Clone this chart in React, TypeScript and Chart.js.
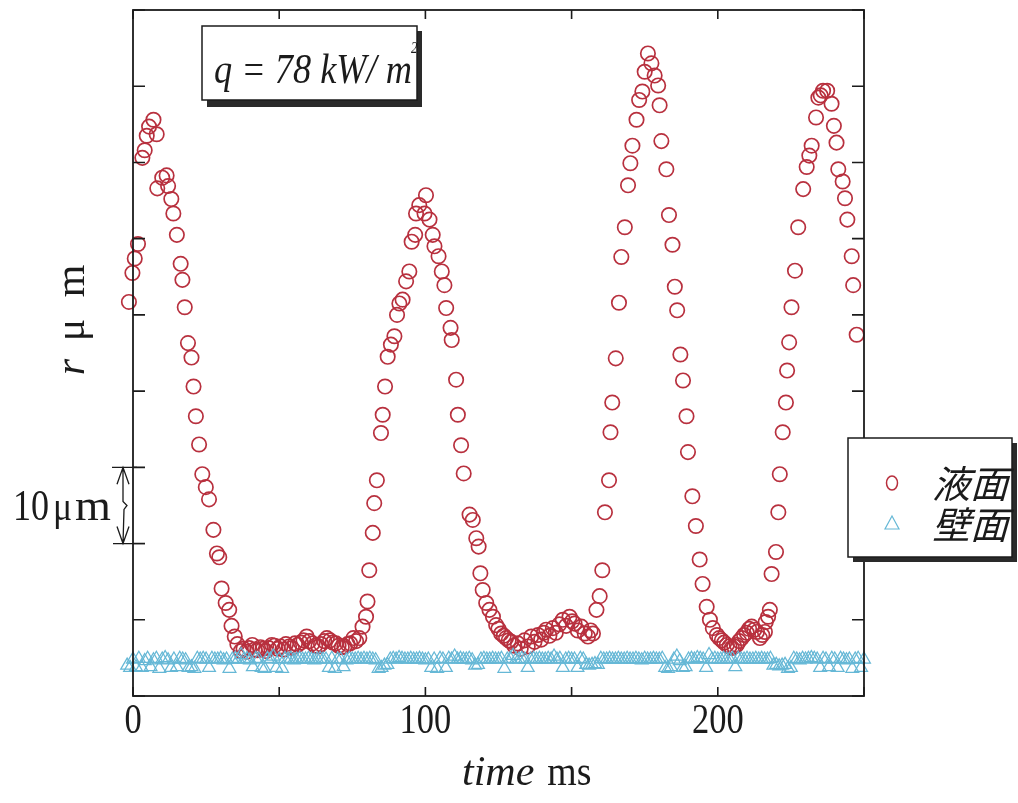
import React, { useEffect, useRef } from 'react';
import { Chart, registerables } from 'chart.js';

Chart.register(...registerables);

// ---- axis ranges / ticks ----
const X_MIN = 0;
const X_MAX = 250;
const Y_MIN = 0;
const Y_MAX = 90;
const xTickValues = [0, 50, 100, 150, 200, 250];
const xTickLabels = ['0', '', '100', '', '200', ''];
const yTickValues = [0, 10, 20, 30, 40, 50, 60, 70, 80, 90];

// ---- 液面 (liquid surface) : time ms / r μm ----
const liquidTimes = [
  -0.2, 0.6, 1.7, 3.2, 4.0, 4.7, 5.5, 7.0, 8.1, 8.3, 10.0, 11.5, 12.0, 13.1, 13.8, 15.0, 16.3, 16.9, 17.7,
  18.8, 20.0, 20.7, 21.5, 22.6, 23.7, 24.9, 26.0, 27.5, 28.7, 29.5, 30.3, 31.7, 32.9, 33.7, 34.8, 35.7, 36.9,
  37.8, 38.8, 39.7, 40.8, 41.6, 42.5, 43.6, 44.4, 45.5, 46.4, 47.5, 48.4, 49.5, 50.4, 51.5, 52.3, 53.4, 54.3,
  55.4, 56.3, 57.4, 58.3, 59.4, 60.3, 61.4, 62.3, 63.4, 64.3, 65.4, 66.3, 67.4, 68.3, 69.4, 70.3, 71.4, 72.3,
  73.4, 74.3, 75.4, 76.3,
  77.4, 78.5, 79.7, 80.2, 80.8, 82.0, 82.5, 83.4, 84.8, 85.4, 86.2, 87.1, 88.2, 89.4, 90.3, 91.1, 92.2, 93.4,
  94.5, 95.3, 96.5, 96.8, 97.9, 99.7, 100.2, 101.4, 102.5, 103.1, 104.5, 105.6, 106.5, 107.1, 108.6, 109.0,
  110.5, 111.1, 112.2, 113.1, 115.1, 116.2, 117.4, 118.2, 118.8, 119.6, 120.8, 121.9, 123.1, 124.2, 125.0,
  125.9, 126.8, 127.6, 128.5, 129.3, 130.4, 131.6, 132.6, 133.9, 135.0, 136.2, 137.3, 138.5, 139.6, 140.5,
  141.3, 142.4, 143.6, 144.6, 145.8, 147.0, 148.1, 149.3, 150.2, 151.0, 152.1, 153.3, 154.5, 155.6, 156.5,
  157.3, 158.5, 159.6, 160.5, 161.4, 162.8, 163.3, 163.9, 165.1, 166.2, 167.0, 168.2, 169.3, 170.1, 170.8,
  172.2, 173.1, 174.2, 175.0, 176.1, 177.3, 178.4, 179.6, 180.1, 180.7, 182.4, 183.3, 184.5, 185.3, 186.1,
  187.2, 188.1, 189.3, 189.8, 191.3, 192.5, 193.8, 194.8,
  196.2, 197.3, 198.3, 199.7, 200.5, 201.4, 202.2, 203.1, 204.0, 204.8, 205.6, 206.5, 207.3, 208.2, 209.0,
  209.9, 210.7, 211.6, 212.5, 213.4, 214.4, 215.2, 216.1, 216.4, 217.2, 217.8,
  218.4, 219.9, 220.7, 221.2, 222.2, 223.3, 223.7, 224.4, 225.2, 226.4, 227.5, 229.2, 230.4, 231.3, 232.1,
  233.6, 234.4, 235.2, 236.0, 237.4, 238.9, 239.7, 240.6, 241.2, 242.7, 243.5, 244.3, 245.8, 246.3, 247.5,
];
const liquidRadius = [
  55.5, 57.4, 59.3, 70.6, 71.6, 73.5, 74.7, 75.6, 73.7, 66.6, 68.0, 68.3, 66.9, 65.2, 63.3, 60.5, 56.7, 54.6, 51.0,
  46.3, 44.4, 40.6, 36.7, 33.0, 29.1, 27.4, 25.8, 21.8, 18.7, 18.2, 14.1, 12.2, 11.3, 9.2, 7.8, 6.8, 5.9,
  6.2, 5.8, 6.3, 6.7, 6.1, 6.0, 6.4, 6.2, 5.9, 6.3, 6.7, 6.6, 6.2, 6.5, 6.1, 6.8, 6.5, 6.3,
  6.9, 6.7, 7.0, 7.3, 7.8, 7.2, 6.9, 6.6, 6.5, 6.8, 7.2, 7.6, 7.3, 7.0, 6.9, 6.6, 6.4, 6.5,
  6.8, 6.9, 7.6, 7.2,
  7.6, 9.1, 10.4, 12.4, 16.5, 21.4, 25.3, 28.3, 34.5, 36.9, 40.6, 44.5, 46.1, 47.2, 50.0, 51.5, 52.0, 54.4,
  55.7, 59.6, 60.5, 63.3, 64.4, 63.3, 65.7, 62.5, 60.5, 59.0, 57.7, 55.7, 53.9, 50.9, 48.3, 46.7,
  41.5, 36.9, 32.9, 29.2, 23.8, 23.1, 20.7, 19.6, 16.1, 13.9, 12.2, 11.3, 10.4, 9.3, 8.8,
  8.2, 7.9, 7.6, 7.3, 7.1, 6.6, 6.9, 6.2, 7.3, 6.5, 7.8, 7.1, 8.0, 7.4, 8.3,
  8.7, 7.9, 8.9, 8.3, 9.4, 10.0, 9.2, 10.4, 9.8, 9.5, 8.6, 9.1, 8.2, 7.8, 8.6,
  8.2, 11.3, 13.1, 16.5, 24.1, 28.3, 34.6, 38.5, 44.3, 51.6, 57.6, 61.5, 67.0, 69.9, 72.2,
  75.6, 78.2, 79.3, 81.9, 84.3, 83.0, 81.4, 80.1, 77.5, 72.8, 69.1, 63.1, 59.2, 53.7, 50.6,
  44.8, 41.4, 36.7, 32.0, 26.2, 22.3, 17.9, 14.7,
  11.7, 10.0, 8.9, 8.0, 7.6, 7.3, 7.0, 6.7, 6.5, 6.3, 6.5, 6.7, 7.2, 7.6, 8.0,
  8.3, 8.8, 9.1, 8.7, 8.4, 7.6, 8.0, 8.4, 9.7, 10.4, 11.3,
  16.0, 18.9, 24.1, 29.1, 34.6, 38.5, 42.7, 46.4, 51.0, 55.8, 61.5, 66.5, 69.4, 70.9, 72.2,
  75.9, 78.5, 78.8, 79.4, 79.4, 77.7, 74.8, 72.6, 69.1, 67.5, 65.3, 62.5, 57.7, 53.9, 47.4,
];
// readings taken just before t = 0 (left of the axis origin)
const liquidEarlyTimes = [-1.4];
const liquidEarlyRadius = [51.7];

// ---- 壁面 (wall) : one reading per ms, starting at wallStartMs ----
const wallStartMs = -2;
const wallRadius = [
  4.0, 3.7, 4.8, 3.8, 4.9, 3.7, 4.6, 4.9, 3.8, 4.7,
  4.9, 3.6, 4.8, 5.0, 4.7, 3.7, 4.8, 3.8, 4.9, 4.8,
  4.7, 3.7, 3.8, 3.6, 4.9, 4.8, 4.9, 4.8, 3.7, 4.9,
  4.8, 4.8, 4.9, 4.7, 4.8, 3.6, 4.8, 4.9, 4.8, 5.4,
  4.8, 4.9, 4.7, 3.8, 4.9, 4.8, 3.7, 3.6, 4.9, 4.8,
  5.2, 3.7, 4.8, 3.6, 4.9, 4.8, 4.9, 4.7, 4.8, 4.9,
  4.8, 4.8, 4.9, 4.8, 4.7, 4.8, 4.9, 4.8, 4.8, 3.7,
  4.9, 3.6, 4.8, 4.8, 3.8, 4.7, 4.9, 4.8, 4.8, 4.9,
  4.8, 4.9, 4.8, 4.9, 4.8, 4.7, 3.6, 3.7, 4.0, 4.1,
  4.8, 4.9, 4.8, 5.0, 4.9, 4.8, 4.8, 4.9, 4.8, 4.8,
  4.9, 4.8, 4.7, 4.8, 3.7, 4.8, 3.6, 4.9, 4.8, 3.7,
  4.9, 4.8, 5.2, 4.8, 4.9, 4.8, 4.8, 4.9, 4.7, 4.0,
  4.1, 4.8, 4.9, 4.8, 4.8, 4.9, 4.8, 4.8, 4.9, 3.6,
  4.8, 4.9, 5.3, 4.8, 4.8, 4.9, 4.8, 3.7, 4.8, 4.9,
  4.8, 4.9, 4.8, 4.8, 4.9, 4.8, 5.2, 4.8, 4.9, 3.7,
  4.8, 4.9, 4.8, 4.8, 3.7, 4.9, 4.8, 4.1, 4.0, 4.1,
  4.2, 4.1, 4.9, 4.8, 4.8, 4.9, 4.8, 4.8, 4.9, 4.8,
  4.8, 4.9, 4.8, 4.8, 4.9, 4.8, 4.7, 4.9, 4.8, 4.8,
  4.9, 4.8, 4.8, 4.9, 3.7, 3.6, 3.8, 4.8, 5.2, 4.6,
  3.7, 3.8, 4.8, 4.9, 4.8, 5.0, 4.9, 4.8, 3.7, 5.4,
  4.8, 4.9, 4.8, 4.8, 4.9, 4.8, 4.8, 4.9, 3.8, 4.9,
  4.8, 4.8, 4.9, 4.8, 4.8, 4.9, 4.8, 4.9, 4.8, 4.8,
  4.9, 4.0, 4.1, 3.9, 4.0, 4.1, 3.6, 3.7, 4.9, 4.8,
  4.7, 4.9, 4.8, 4.9, 5.0, 4.9, 4.8, 3.7, 4.9, 4.8,
  3.8, 4.9, 4.8, 3.7, 4.9, 4.8, 4.7, 4.8, 3.6, 4.8,
  4.9, 3.7, 4.8,
];

// ---- texts ----
const legendLabels = ['液面', '壁面'];
const annotationText = 'q = 78 kW/ m';
const xTitleItalic = 'time';
const xTitleUnit = 'ms';
const scaleBarText = '10';

const RED = '#b8303e';
const BLUE = '#66b8d6';
const INK = '#1b1b1b';

function drawText(
  ctx: CanvasRenderingContext2D,
  s: string,
  x: number,
  y: number,
  font: string,
  sx = 1,
  align: 'left' | 'center' | 'right' = 'left',
  skew = 0
) {
  ctx.save();
  ctx.font = font;
  ctx.fillStyle = INK;
  ctx.textBaseline = 'alphabetic';
  ctx.textAlign = 'left';
  const w = ctx.measureText(s).width * sx;
  let x0 = x;
  if (align === 'center') x0 = x - w / 2;
  else if (align === 'right') x0 = x - w;
  ctx.translate(x0, y);
  if (skew) ctx.transform(1, 0, skew, 1, 0, 0);
  ctx.scale(sx, 1);
  ctx.fillText(s, 0, 0);
  ctx.restore();
  return w;
}

const decorPlugin = {
  id: 'decor',
  afterDatasetsDraw(chart: any) {
    const ctx: CanvasRenderingContext2D = chart.ctx;
    const xs = chart.scales.x;
    const ys = chart.scales.y;
    const L = xs.getPixelForValue(X_MIN);
    const R = xs.getPixelForValue(X_MAX);
    const T = ys.getPixelForValue(Y_MAX);
    const B = ys.getPixelForValue(Y_MIN);

    ctx.save();
    // frame
    ctx.strokeStyle = INK;
    ctx.lineWidth = 1.8;
    ctx.strokeRect(L, T, R - L, B - T);

    // inward ticks
    ctx.lineWidth = 1.6;
    ctx.beginPath();
    xTickValues.forEach((v) => {
      const px = xs.getPixelForValue(v);
      ctx.moveTo(px, B);
      ctx.lineTo(px, B - 9);
      ctx.moveTo(px, T);
      ctx.lineTo(px, T + 9);
    });
    yTickValues.forEach((v) => {
      const py = ys.getPixelForValue(v);
      ctx.moveTo(L, py);
      ctx.lineTo(L + 12, py);
      ctx.moveTo(R, py);
      ctx.lineTo(R - 12, py);
    });
    ctx.stroke();

    // x tick labels
    xTickValues.forEach((v, i) => {
      const lab = xTickLabels[i];
      if (!lab) return;
      drawText(ctx, lab, xs.getPixelForValue(v), B + 37, '42px "Liberation Serif"', 0.82, 'center');
    });

    // x title
    const tw = drawText(ctx, xTitleItalic, 462, 785, 'italic 42px "Liberation Serif"', 1.0, 'left');
    drawText(ctx, xTitleUnit, 462 + tw + 13, 785, '42px "Liberation Serif"', 0.9, 'left');

    // y title (rotated glyphs, reading bottom to top)
    const rot = (s: string, cy: number, font: string) => {
      ctx.save();
      ctx.translate(84, cy);
      ctx.rotate(-Math.PI / 2);
      ctx.font = font;
      ctx.fillStyle = INK;
      ctx.textAlign = 'center';
      ctx.textBaseline = 'alphabetic';
      ctx.fillText(s, 0, 0);
      ctx.restore();
    };
    rot('r', 367, 'italic 42px "Liberation Serif"');
    rot('μ', 330, '42px "Liberation Serif"');
    rot('m', 281, '42px "Liberation Serif"');

    // 10 μm scale bar
    const yTop = ys.getPixelForValue(30);
    const yBot = ys.getPixelForValue(20);
    const bx = 123;
    ctx.lineWidth = 1.3;
    ctx.beginPath();
    ctx.moveTo(112, yTop);
    ctx.lineTo(L + 4, yTop);
    ctx.moveTo(113, yBot);
    ctx.lineTo(L + 12, yBot);
    const mid = (yTop + yBot) / 2;
    ctx.moveTo(bx, yTop);
    ctx.lineTo(bx, mid - 4);
    ctx.lineTo(bx + 4, mid);
    ctx.lineTo(bx + 1, mid + 4);
    ctx.lineTo(bx, yBot);
    ctx.moveTo(bx - 6, yTop + 17);
    ctx.lineTo(bx, yTop);
    ctx.lineTo(bx + 6, yTop + 17);
    ctx.moveTo(bx - 6, yBot - 17);
    ctx.lineTo(bx, yBot);
    ctx.lineTo(bx + 6, yBot - 17);
    ctx.stroke();
    drawText(ctx, scaleBarText, 13, 520, '44px "Liberation Serif"', 0.82, 'left');
    drawText(ctx, 'μ', 53, 520, '42px "Liberation Serif"', 0.85, 'left');
    drawText(ctx, 'm', 75, 520, '44px "Liberation Serif"', 1.05, 'left');

    // annotation box
    const ax = 202, ay = 26, aw = 215, ah = 74;
    ctx.fillStyle = '#2a2a2a';
    ctx.fillRect(ax + 5, ay + 5, aw, ah + 2);
    ctx.fillStyle = '#ffffff';
    ctx.fillRect(ax, ay, aw, ah);
    ctx.strokeStyle = INK;
    ctx.lineWidth = 1.5;
    ctx.strokeRect(ax, ay, aw, ah);
    {
      ctx.font = 'italic 42px "Liberation Serif"';
      const natural = ctx.measureText(annotationText).width;
      const sx = 198 / natural;
      drawText(ctx, annotationText, 214, 83, 'italic 42px "Liberation Serif"', sx, 'left');
      drawText(ctx, '2', 411, 53, 'italic 16px "Liberation Serif"', 0.8, 'left');
    }

    // legend box
    const lx = 848, ly = 438, lw = 164, lh = 119;
    ctx.fillStyle = '#2a2a2a';
    ctx.fillRect(lx + 5, ly + 5, lw, lh);
    ctx.fillStyle = '#ffffff';
    ctx.fillRect(lx, ly, lw, lh);
    ctx.strokeStyle = INK;
    ctx.lineWidth = 1.5;
    ctx.strokeRect(lx, ly, lw, lh);
    ctx.strokeStyle = RED;
    ctx.lineWidth = 1.5;
    ctx.beginPath();
    ctx.ellipse(892, 483, 5.5, 7, 0, 0, Math.PI * 2);
    ctx.stroke();
    ctx.strokeStyle = BLUE;
    ctx.lineWidth = 1.2;
    ctx.beginPath();
    ctx.moveTo(892, 516);
    ctx.lineTo(899, 529);
    ctx.lineTo(885, 529);
    ctx.closePath();
    ctx.stroke();
    drawText(ctx, legendLabels[0], 932, 498, '38px "Noto Sans CJK JP"', 1.0, 'left', -0.28);
    drawText(ctx, legendLabels[1], 932, 539, '38px "Noto Sans CJK JP"', 1.0, 'left', -0.28);

    ctx.restore();
  },
};

export default function App() {
  const canvasRef = useRef<HTMLCanvasElement | null>(null);

  useEffect(() => {
    const canvas = canvasRef.current;
    if (!canvas) return;
    const liquidPoints = liquidTimes
      .map((t, i) => ({ x: t, y: liquidRadius[i] }))
      .concat(liquidEarlyTimes.map((t, i) => ({ x: t, y: liquidEarlyRadius[i] })));
    const wallPoints = wallRadius.map((v, i) => ({ x: wallStartMs + i, y: v }));
    // keep the pre-origin wall readings visible as well (drawn unsorted so none are culled)
    const wallData = wallPoints.slice(2).concat(wallPoints.slice(0, 2));

    const chart = new Chart(canvas, {
      type: 'scatter',
      data: {
        datasets: [
          {
            label: legendLabels[1],
            data: wallData,
            pointStyle: 'triangle',
            pointRadius: 7.4,
            pointBorderWidth: 1.25,
            pointBorderColor: BLUE,
            pointBackgroundColor: 'rgba(0,0,0,0)',
            showLine: false,
            clip: false,
            order: 0,
          } as any,
          {
            label: legendLabels[0],
            data: liquidPoints,
            pointStyle: 'circle',
            pointRadius: 7.2,
            pointBorderWidth: 1.7,
            pointBorderColor: RED,
            pointBackgroundColor: 'rgba(0,0,0,0)',
            showLine: false,
            clip: false,
            order: 1,
          } as any,
        ],
      },
      options: {
        responsive: false,
        animation: false,
        devicePixelRatio: 1,
        events: [],
        layout: { padding: { left: 133, right: 154, top: 10, bottom: 107 } },
        plugins: { legend: { display: false }, tooltip: { enabled: false }, title: { display: false } },
        scales: {
          x: { type: 'linear', min: X_MIN, max: X_MAX, display: false },
          y: { type: 'linear', min: Y_MIN, max: Y_MAX, display: false },
        },
      },
      plugins: [decorPlugin],
    });
    return () => chart.destroy();
  }, []);

  return (
    <div style={{ position: 'absolute', left: 0, top: 0, width: 1018, height: 803, background: '#fff' }}>
      <canvas ref={canvasRef} width={1018} height={803} style={{ display: 'block', width: 1018, height: 803 }} />
    </div>
  );
}
